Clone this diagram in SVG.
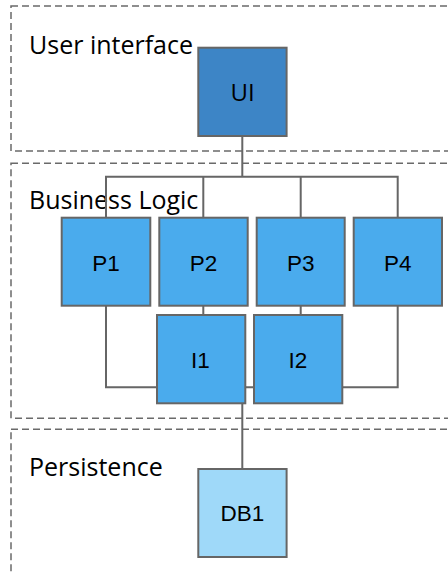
<svg xmlns="http://www.w3.org/2000/svg" width="448" height="573" viewBox="0 0 448 573">
<style>
.layer{fill:none;stroke:#6a6a6a;stroke-width:1.5;stroke-dasharray:7,4}
.lt{font-family:"Open Sans","Liberation Sans",sans-serif;font-size:25px;fill:#000}
.n{stroke:#666;stroke-width:2}
.ui{fill:#3d85c6}
.p{fill:#4aabed}
.db{fill:#9fd9f9}
.nt{font-family:"Liberation Sans",Arial,sans-serif;font-size:22.5px;fill:#000;text-anchor:middle}
.c{fill:none;stroke:#666;stroke-width:2}
</style>
<rect width="448" height="573" fill="#fff"/>
<g id="layers">
<rect class="layer" x="11" y="6" width="450" height="145"/>
<rect class="layer" x="11" y="163.3" width="450" height="255"/>
<rect class="layer" x="11" y="429.3" width="450" height="160"/>
<text class="lt" x="29" y="54">User interface</text>
<text class="lt" x="29" y="209">Business Logic</text>
<text class="lt" x="29" y="476">Persistence</text>
</g>
<g id="connectors">
<path class="c" d="M242.3 136V176.7M106 217.7V176.7H397.7V217.7M203.3 176.7V217.7M300.7 176.7V217.7"/>
<path class="c" d="M203.3 305.7V315M300.7 305.7V315"/>
<path class="c" d="M106 305.7V387.3H397.7V305.7"/>
<path class="c" d="M242.3 403.3V469"/>
</g>
<g id="UI"><rect class="n ui" x="198.3" y="47.7" width="88.3" height="88.3"/><text class="nt" x="242.5" y="101" style="font-family:'Open Sans',sans-serif;font-size:24px">UI</text></g>
<g id="P1"><rect class="n p" x="61.7" y="217.7" width="88.6" height="88"/><text class="nt" x="106" y="271">P1</text></g>
<g id="P2"><rect class="n p" x="159.3" y="217.7" width="88.4" height="88"/><text class="nt" x="203.5" y="271">P2</text></g>
<g id="P3"><rect class="n p" x="256.7" y="217.7" width="88" height="88"/><text class="nt" x="300.7" y="271">P3</text></g>
<g id="P4"><rect class="n p" x="353.7" y="217.7" width="88.3" height="88"/><text class="nt" x="397.8" y="271">P4</text></g>
<g id="I1"><rect class="n p" x="157" y="315" width="88.3" height="88.3"/><text class="nt" x="200.5" y="368">I1</text></g>
<g id="I2"><rect class="n p" x="254" y="315" width="88.3" height="88.3"/><text class="nt" x="298" y="368">I2</text></g>
<g id="DB1"><rect class="n db" x="198.3" y="469" width="88.3" height="88"/><text class="nt" x="242.5" y="521">DB1</text></g>
</svg>
